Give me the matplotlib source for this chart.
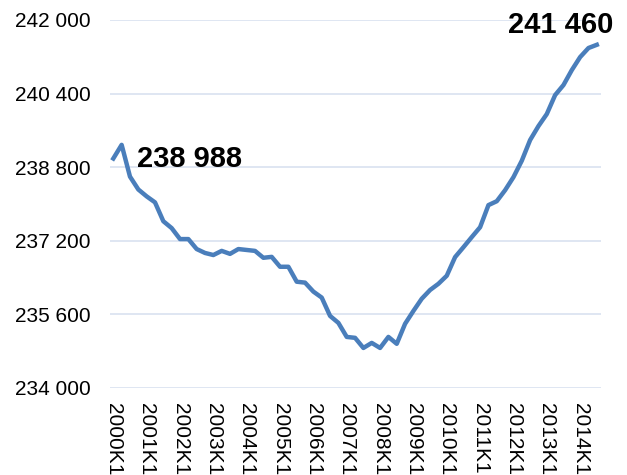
import matplotlib.pyplot as plt
from matplotlib.ticker import FuncFormatter

# quarterly values 2000K1 .. 2014K3
values = [
    238988, 239285, 238595, 238315, 238165, 238035, 237625, 237475,
    237237, 237237, 237020, 236935, 236890, 236980, 236915, 237020,
    237000, 236980, 236830, 236850, 236635, 236635, 236310, 236290,
    236095, 235965, 235567, 235415, 235110, 235090, 234870, 234980,
    234870, 235110, 234960, 235395, 235675, 235940, 236130, 236265,
    236440, 236845, 237060, 237280, 237495, 237975, 238060, 238300,
    238583, 238940, 239390, 239693, 239955, 240367, 240585, 240910,
    241193, 241390, 241460,
]
years = list(range(2000, 2015))
tick_labels = [f"{y}K1" for y in years]
y_ticks = [234000, 235600, 237200, 238800, 240400, 242000]

plt.rcParams["font.family"] = ["Liberation Sans", "DejaVu Sans"]

fig = plt.figure(figsize=(6.27, 4.75), dpi=100)
ax = fig.add_axes([0.1754, 0.1832, 0.7831, 0.7748])

x = list(range(len(values)))
ax.plot(x, values, color="#4a7ebb", linewidth=3.2, solid_joinstyle="round")

ax.set_ylim(234000, 242000)
ax.set_xlim(-0.4, 58.5)
ax.set_yticks(y_ticks)
ax.yaxis.set_major_formatter(FuncFormatter(lambda v, p: f"{int(v):,}".replace(",", " ")))
ax.set_xticks([4 * i for i in range(len(years))])
ax.set_xticklabels(tick_labels, rotation=-90, ha="center", va="top")

ax.grid(axis="y", color="#d9e1f0", linewidth=1.2)
ax.set_axisbelow(True)
for s in ax.spines.values():
    s.set_visible(False)
ax.tick_params(length=0, labelsize=15, colors="black")
ax.tick_params(axis="y", pad=14)
ax.tick_params(axis="x", pad=11)

ax.annotate("238 988", (0, values[0]), xytext=(17, 0), textcoords="offset points",
            ha="left", va="center", fontsize=21, fontweight="bold")
ax.annotate("241 460", (len(values) - 1, values[-1]), xytext=(-26, 14.5),
            textcoords="offset points", ha="center", va="center",
            fontsize=21, fontweight="bold")

fig.savefig("out.png", dpi=100)
